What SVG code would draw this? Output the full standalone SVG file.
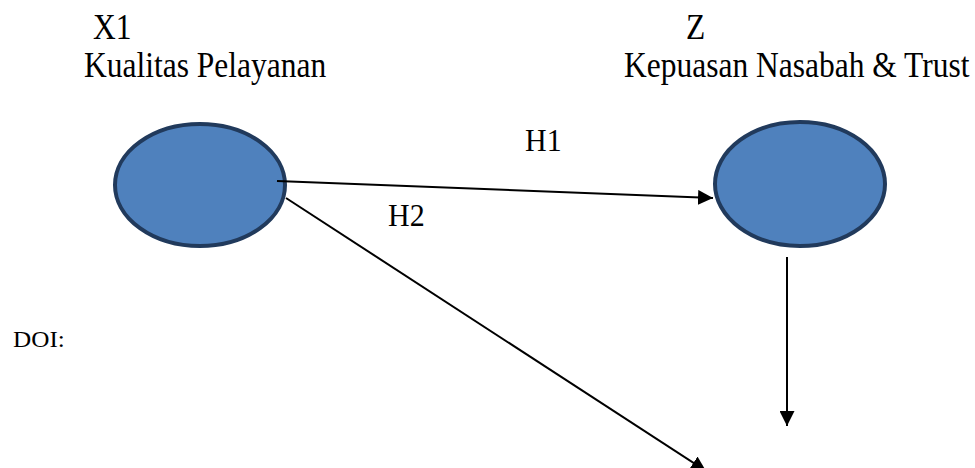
<svg xmlns="http://www.w3.org/2000/svg" width="975" height="468" viewBox="0 0 975 468">
  <style>
    text { font-family: 'Liberation Serif', 'Times New Roman', serif; fill: #000; }
    .big { font-size: 31.5px; }
    .mid { font-size: 30px; }
    .small { font-size: 24px; }
    .node { fill: #4f81bd; stroke: #213a5c; stroke-width: 4; }
    .edge { fill: none; stroke: #000; stroke-width: 2; }
  </style>
  <defs>
    <marker id="head" viewBox="0 0 10 10" refX="10" refY="5" markerWidth="15" markerHeight="15" markerUnits="userSpaceOnUse" orient="auto">
      <path d="M0,0 L10,5 L0,10 Z" fill="#000"/>
    </marker>
  </defs>
  <rect width="975" height="468" fill="#fff"/>

  <!-- headings are set in a tall, narrow cut: stretched vertically -->
  <g id="x1">
    <text class="big" transform="translate(93,39) scale(1,1.14)">X1</text>
    <text class="big" transform="translate(84,77) scale(1,1.14)">Kualitas Pelayanan</text>
    <ellipse class="node" cx="200" cy="185" rx="85" ry="61"/>
  </g>

  <g id="z">
    <text class="big" transform="translate(686,39) scale(1,1.14)">Z</text>
    <text class="big" transform="translate(624,77) scale(1,1.14)">Kepuasan Nasabah &amp; Trust</text>
    <ellipse class="node" cx="800" cy="184" rx="85" ry="62"/>
  </g>

  <g id="doi">
    <text class="small" transform="translate(13,347) scale(1.05,1)">DOI:</text>
  </g>

  <g id="connectors">
    <line class="edge" x1="277" y1="181" x2="713" y2="198" marker-end="url(#head)"/>
    <line class="edge" x1="286" y1="198" x2="706" y2="471" marker-end="url(#head)"/>
    <line class="edge" x1="787" y1="257" x2="787" y2="426" marker-end="url(#head)"/>
    <text class="mid" transform="translate(525,151) scale(1,1.07)">H1</text>
    <text class="mid" transform="translate(388,226) scale(1,1.07)">H2</text>
  </g>
</svg>
